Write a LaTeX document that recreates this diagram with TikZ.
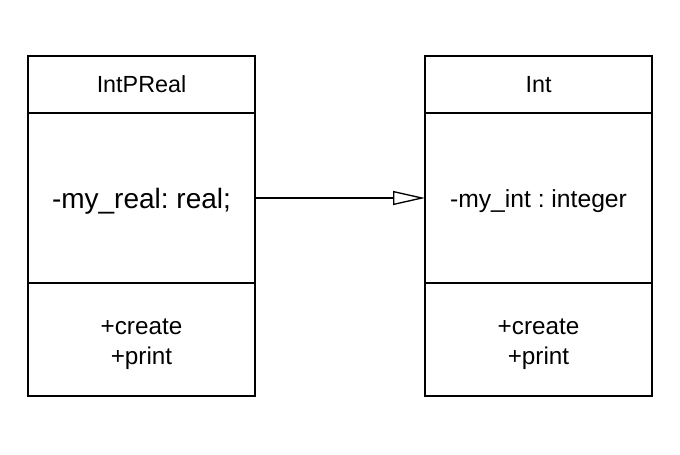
\documentclass[tikz,border=0pt]{standalone}
\usepackage{fontspec}
\setmainfont{Liberation Sans}
\frenchspacing
\usepackage{tikz}
\usetikzlibrary{arrows.meta, positioning}

\begin{document}
\begin{tikzpicture}[
    x=0.75pt, y=-0.75pt,
    node distance=0pt,
    part/.style={draw, rectangle, line width=1pt, outer sep=0pt, minimum width=170.25pt, align=center},
    head/.style={part, minimum height=42.75pt, font=\fontsize{17.5}{20}\selectfont},
    attr/.style={part, minimum height=127.5pt},
    meth/.style={part, minimum height=84.75pt},
    txt/.style={align=center, yshift=-2.5pt},
    mtxt/.style={align=center, yshift=-3.75pt, font=\fontsize{18.2}{22.5}\selectfont},
    arrow/.style={line width=1pt, -{Triangle[open, length=24pt, width=10.5pt]}}
]
\useasboundingbox (0,0) rectangle (680,454);

% left class
\node[head] (realhead) at (141.5,84.5) {IntPReal};
\node[attr, below=of realhead, label={[txt, font=\fontsize{21}{25}\selectfont]center:-my\_real: real;}] (realattr) {};
\node[meth, below=of realattr, label={[mtxt]center:{+create \\ +print}}] (realmeth) {};

% right class
\node[head] (inthead) at (538.5,84.5) {Int};
\node[attr, below=of inthead, label={[txt, font=\fontsize{18.5}{22}\selectfont]center:-my\_int : integer}] (intattr) {};
\node[meth, below=of intattr, label={[mtxt]center:{+create \\ +print}}] (intmeth) {};

\draw[arrow] (realattr) -- (intattr);
\end{tikzpicture}
\end{document}
